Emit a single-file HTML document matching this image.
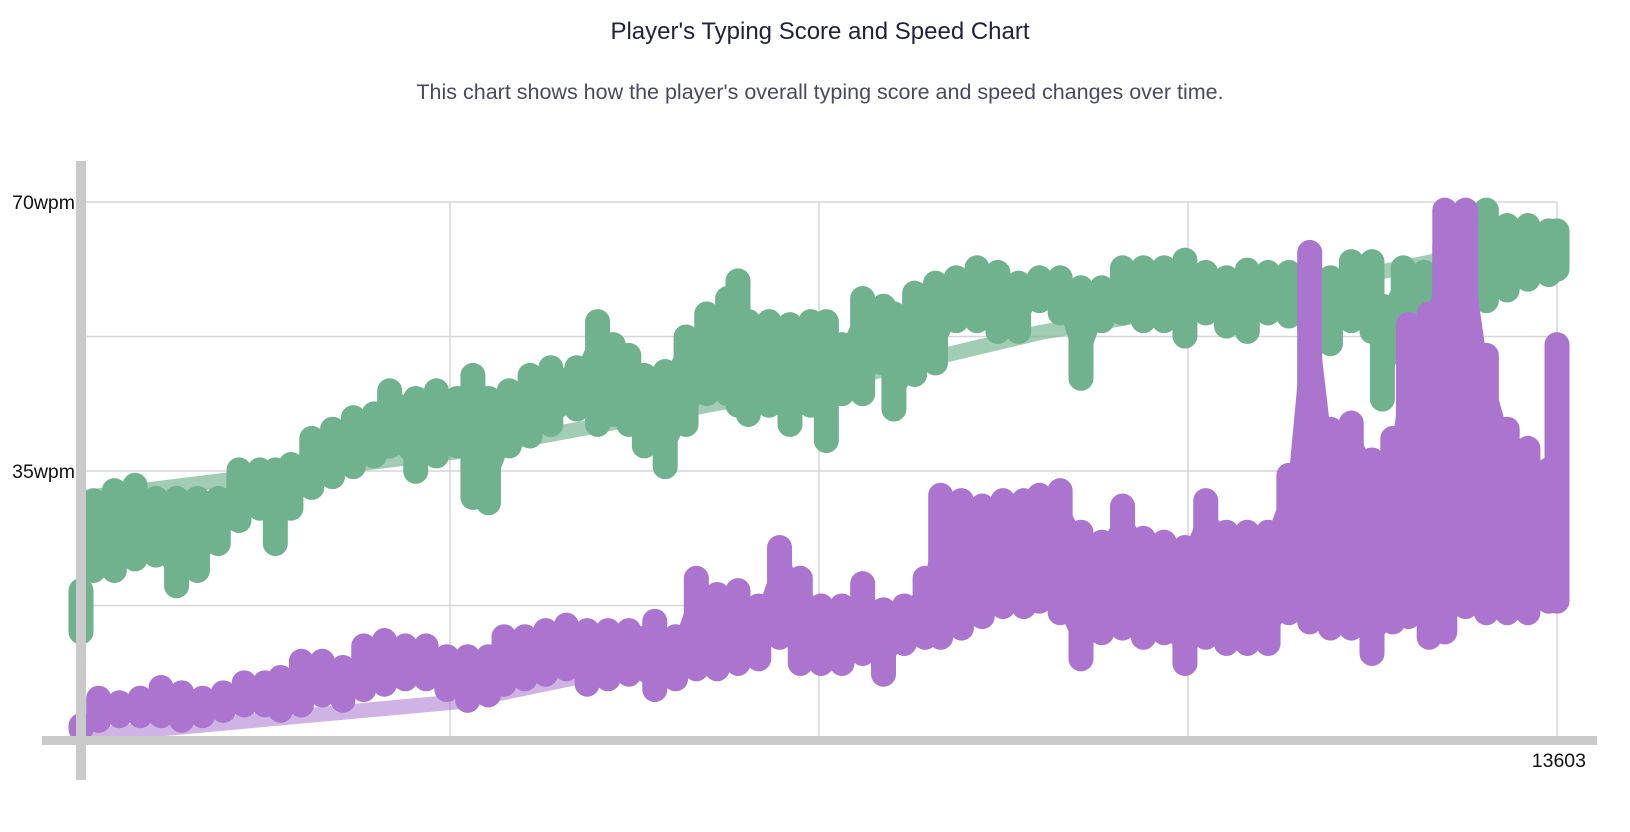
<!DOCTYPE html>
<html><head><meta charset="utf-8">
<style>
html,body{margin:0;padding:0;background:#fff;width:1630px;height:832px;overflow:hidden;font-family:"Liberation Sans",sans-serif}
#title{position:absolute;left:0;width:1640px;top:18px;text-align:center;font-size:24px;line-height:28px;color:#22223a}
#sub{position:absolute;left:0;width:1640px;top:80px;text-align:center;font-size:21.5px;line-height:25px;color:#4a4a5e}
svg{position:absolute;left:0;top:0}
</style></head><body>
<div id="title">Player's Typing Score and Speed Chart</div>
<div id="sub">This chart shows how the player's overall typing score and speed changes over time.</div>
<svg id="chart" width="1630" height="832"></svg>
<script>
const scoreX=[0,115,307,498,690,881,1073,1265,1456,1648,1791,1935,2127,2318,2510,2702,2845,3085,3276,3468,3612,3755,3947,4139,4330,4570,4761,4905,5049,5192,5384,5576,5767,5959,6055,6150,6342,6534,6725,6869,7013,7204,7396,7492,7683,7875,8066,8258,8450,8641,8833,9024,9216,9408,9599,9791,9982,10174,10366,10557,10749,10940,11132,11324,11515,11707,11898,11994,12186,12377,12569,12761,12952,13144,13335,13527,13603];
const scoreHigh=[21,32.7,34,34.7,33,33,33,33,36.7,36.7,36.7,37.4,40.8,42,43.5,44,47,46,47,46,49,46,47,49,50,50,56,53,51.6,49,49.5,54,57,59,61.3,56,56,55.6,56,56,53,59,58,57,59.7,61,61.7,63,62.4,61,61.7,61.7,60.4,60.4,63,63,63,64,62.4,61.7,62.7,62.4,62.4,61.7,61.7,63.8,63.8,58,63,62.4,65.8,66.5,70.5,68.5,68.5,67.8,67.8];
const scoreLow=[12.5,20.5,20.5,22,22.5,18.5,20.5,24,27,28.6,24,28.6,31.3,32.7,34,35.4,36.7,33.4,35.4,36.7,30,29.3,36.7,38,39.5,41.5,39.5,40.8,39.5,36.7,34,39.5,43.5,43.5,42,40.8,42,39.5,42,37.4,43.5,43.5,47.5,41.5,46,47.5,53,53,51.6,51.6,55.6,54,45.5,53,54,53,53,51,54,52.3,51.6,54,53.6,51.6,50,53,51.6,42.8,50,47.5,55.6,57,55.6,57,58.4,59,59.7];
const speedX=[0,163,354,546,738,929,1121,1312,1504,1696,1839,2031,2223,2414,2606,2797,2989,3181,3372,3564,3755,3899,4091,4282,4474,4665,4857,5049,5288,5480,5671,5863,6055,6246,6438,6629,6821,7013,7204,7396,7587,7779,7923,8114,8306,8497,8689,8833,9024,9216,9408,9599,9791,9982,10174,10366,10557,10749,10940,11132,11324,11515,11707,11898,12090,12234,12425,12569,12761,12952,13144,13335,13527,13603];
const speedHigh=[3,7,6.4,7,8.4,7.7,7,7.7,9,9,9.7,11.8,11.8,11,13.8,14.5,13.8,13.8,12.4,12.4,12.4,15,15,15.8,16.5,15.8,15.8,15.8,17,15,22.6,20.5,21,19,26.6,22.6,19,19,21.9,18.5,19,22.6,33.4,32.7,32,32.7,32.7,33.4,34,28.6,27.3,32,27.8,27.3,26.6,32.7,28.6,28.6,28.6,36,65,42,42.8,38,40.8,55.6,57,70.5,70.5,51.6,42,39.5,36.7,53];
const speedLow=[0.3,1,1.6,1.6,1.6,1,1.6,2.3,3,3,2.3,3,4.3,3.6,5,5.7,6.4,6.4,5,3.6,4.3,5.7,6.4,7,7.7,5.7,6.4,7,5,6.4,7.7,7.7,8.4,9,11.8,8.4,8.4,8.4,9.7,7,11,11.8,11.8,13,14.5,15.8,15.8,16.5,15,9,12.4,13,11.8,12.4,8.4,11.8,11,11,11,15,13.8,13,13,9.7,13.8,14.5,11.8,12.5,15.8,15,15,15,16.5,16.5];
const scoreTrendX=[0,3468,6900,8833,11132,13603];
const scoreTrendY=[31.5,37.5,46.5,53,58.5,65.5];
const speedTrendX=[0,3500,6900,11000,13603];
const speedTrendY=[0.5,5,15,25,29];
const yTicks=[35,70];
const xMax=13603;

const NS='http://www.w3.org/2000/svg';
const svg=document.getElementById('chart');
const L=81,R=1557,T=202,B=740;
const xs=v=>L+v/xMax*(R-L);
const ys=v=>B-v/70*(B-T);
function mk(t,a,p){const e=document.createElementNS(NS,t);for(const k in a)e.setAttribute(k,a[k]);(p||svg).appendChild(e);return e;}

for(let i=1;i<=4;i++){const g=mk('line',{x1:L,x2:R,y1:ys(70*i/4),y2:ys(70*i/4),stroke:'#d6d6d6','stroke-width':1.5});

}
for(let i=1;i<=4;i++){const g=mk('line',{x1:xs(xMax*i/4),x2:xs(xMax*i/4),y1:T,y2:B,stroke:'#d6d6d6','stroke-width':1.5});

}

function trend(X,Y,col,name){const p=mk('polyline',{points:X.map((x,i)=>xs(x)+','+ys(Y[i])).join(' '),fill:'none',stroke:col,'stroke-width':15,'stroke-linecap':'butt'});

}
function series(X,H,Lo,col,name){const g=mk('g',{});


X.forEach((x,i)=>{const l=mk('line',{x1:xs(x),x2:xs(x),y1:ys(H[i])+12,y2:ys(Lo[i])-12,stroke:col,'stroke-width':25,'stroke-linecap':'round'},g);

});
for(let i=0;i<X.length-1;i++){const pts=[[xs(X[i]),ys(H[i])+12],[xs(X[i+1]),ys(H[i+1])+12],[xs(X[i+1]),ys(Lo[i+1])-12],[xs(X[i]),ys(Lo[i])-12]];
const ok=Math.max(ys(H[i]),ys(H[i+1]))+12<Math.min(ys(Lo[i]),ys(Lo[i+1]))-12;
if(ok){const p=mk('polygon',{points:pts.map(q=>q.join(',')).join(' '),fill:col},g);

}}}

trend(scoreTrendX,scoreTrendY,'rgba(112,178,141,0.65)','score-trend');
series(scoreX,scoreHigh,scoreLow,'#70b28d','score-series');
trend(speedTrendX,speedTrendY,'rgba(170,116,207,0.55)','speed-trend');
series(speedX,speedHigh,speedLow,'#aa74cf','speed-series');

const ya=mk('rect',{x:76,y:161,width:10,height:619,fill:'#cacaca'});


const xa=mk('rect',{x:42,y:736,width:1555,height:9,fill:'#cacaca'});



yTicks.forEach(v=>{const t=mk('text',{x:75,y:ys(v)+7,'text-anchor':'end','font-size':19.5,fill:'#111','font-family':'Liberation Sans, sans-serif'});
t.textContent=v+'wpm';

});
const xt=mk('text',{x:1586,y:767,'text-anchor':'end','font-size':19.5,fill:'#111','font-family':'Liberation Sans, sans-serif'});
xt.textContent=String(xMax);


</script>
</body></html>
